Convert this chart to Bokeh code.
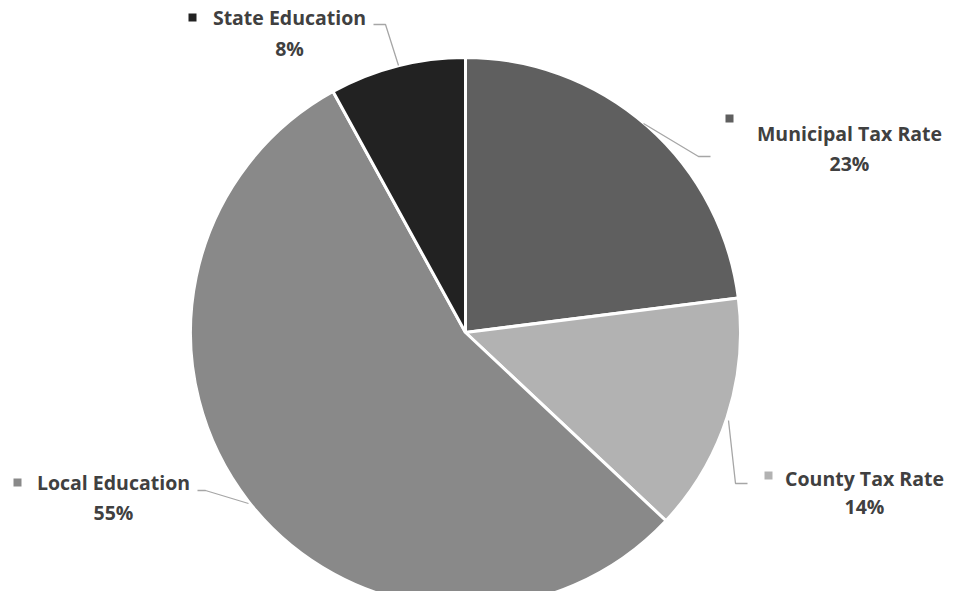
import math
from bokeh.plotting import figure
from bokeh.models import Range1d, ColumnDataSource
from bokeh.core.properties import value
from bokeh.embed import file_html
from bokeh.resources import INLINE

# ---- data ----
categories = ["Municipal Tax Rate", "County Tax Rate", "Local Education", "State Education"]
shares = [23, 14, 55, 8]
colors = ["#5f5f5f", "#b2b2b2", "#898989", "#222222"]

# ---- layout (pixel coordinates of the picture) ----
H = 607
CX, CY, R = 465, 332, 275

def sy(y):
    return H - y

p = figure(width=947, height=591, output_backend="svg", toolbar_location=None,
           x_range=Range1d(0, 947), y_range=Range1d(16, 607),
           min_border=0, outline_line_color=None)
p.axis.visible = False
p.grid.visible = False
p.background_fill_color = "white"
p.border_fill_color = "white"

total = sum(shares)
starts, ends = [], []
cum = 0.0
for v in shares:
    starts.append(math.pi / 2 - 2 * math.pi * cum / total)
    cum += v
    ends.append(math.pi / 2 - 2 * math.pi * cum / total)

src = ColumnDataSource(dict(start=starts, end=ends, color=colors, cat=categories))
p.wedge(x=CX, y=sy(CY), radius=R, start_angle="start", end_angle="end",
        direction="clock", fill_color="color", line_color="white", line_width=3,
        source=src)

# leader lines
leaders = [
    ([643, 698, 710], [123, 156, 156]),          # Municipal
    ([728, 735, 747], [420, 483, 483]),          # County
    ([248, 205, 197], [503, 490, 490]),          # Local
    ([398, 385, 373], [65, 24, 24]),             # State
]
p.multi_line(xs=[l[0] for l in leaders], ys=[[sy(v) for v in l[1]] for l in leaders],
             line_color="#a6a6a6", line_width=1.3)

# label positions: (name center x, name y, pct y, marker x, marker y)
label_pos = [
    (849, 133, 163, 729, 118),
    (864, 478, 506, 768, 475),
    (113, 482, 512, 17, 482),
    (289, 17, 48, 192, 17),
]

pct_text = [f"{v}%" for v in shares]
FONT = value("Open Sans")
p.text(x=[lp[0] for lp in label_pos], y=[sy(lp[1]) for lp in label_pos], text=categories,
       text_font=FONT, text_font_style="bold", text_font_size="19.5px",
       text_color="#404040", text_align="center", text_baseline="middle")
p.text(x=[lp[0] for lp in label_pos], y=[sy(lp[2]) for lp in label_pos], text=pct_text,
       text_font=FONT, text_font_style="bold", text_font_size="19.5px",
       text_color="#404040", text_align="center", text_baseline="middle")
p.scatter(x=[lp[3] for lp in label_pos], y=[sy(lp[4]) for lp in label_pos], marker="square",
          size=8, fill_color=colors, line_color=None)

open("out.html", "w").write(file_html(p, INLINE))
